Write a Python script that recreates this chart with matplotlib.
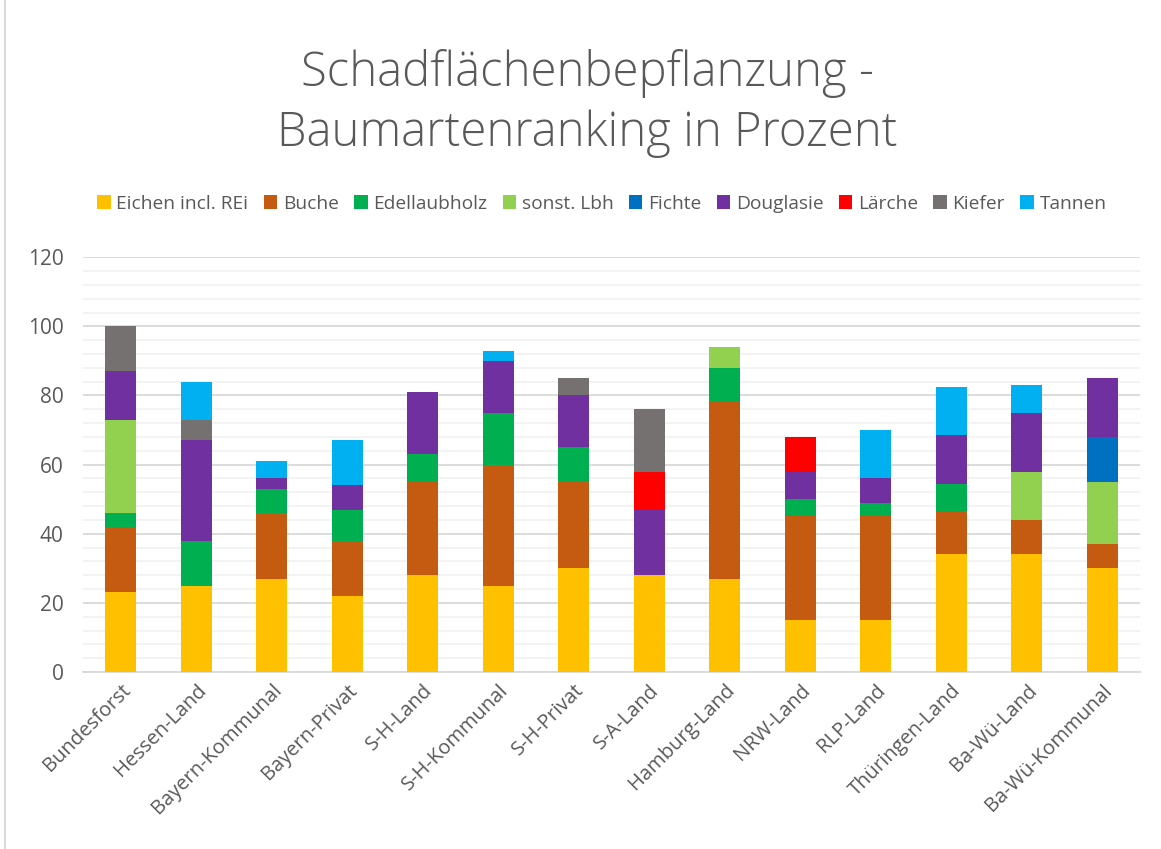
import matplotlib.pyplot as plt
from matplotlib.lines import Line2D
from matplotlib.ticker import MultipleLocator
import numpy as np

regions = ["Bundesforst", "Hessen-Land", "Bayern-Kommunal", "Bayern-Privat",
           "S-H-Land", "S-H-Kommunal", "S-H-Privat", "S-A-Land", "Hamburg-Land",
           "NRW-Land", "RLP-Land", "Thüringen-Land", "Ba-Wü-Land", "Ba-Wü-Kommunal"]

eichen    = [23, 25, 27, 22, 28, 25, 30, 28, 27, 15, 15, 34, 34, 30]
buche     = [19, 0, 19, 16, 27, 35, 25, 0, 51, 30, 30, 12.5, 10, 7]
edellaub  = [4, 13, 7, 9, 8, 15, 10, 0, 10, 5, 4, 8, 0, 0]
sonst_lbh = [27, 0, 0, 0, 0, 0, 0, 0, 6, 0, 0, 0, 14, 18]
fichte    = [0, 0, 0, 0, 0, 0, 0, 0, 0, 0, 0, 0, 0, 13]
douglasie = [14, 29, 3, 7, 18, 15, 15, 19, 0, 8, 7, 14, 17, 17]
laerche   = [0, 0, 0, 0, 0, 0, 0, 11, 0, 10, 0, 0, 0, 0]
kiefer    = [13, 6, 0, 0, 0, 0, 5, 18, 0, 0, 0, 0, 0, 0]
tannen    = [0, 11, 5, 13, 0, 3, 0, 0, 0, 0, 14, 14, 8, 0]

series = [
    ("Eichen incl. REi", eichen, "#FFC000"),
    ("Buche", buche, "#C55A11"),
    ("Edellaubholz", edellaub, "#00B050"),
    ("sonst. Lbh", sonst_lbh, "#92D050"),
    ("Fichte", fichte, "#0070C0"),
    ("Douglasie", douglasie, "#7030A0"),
    ("Lärche", laerche, "#FF0000"),
    ("Kiefer", kiefer, "#767171"),
    ("Tannen", tannen, "#00B0F0"),
]

plt.rcParams["font.family"] = ["Open Sans", "DejaVu Sans"]
TXT = "#595959"

fig = plt.figure(figsize=(11.61, 8.49), dpi=100)
ax = fig.add_axes([0.0715, 0.2085, 0.9105, 0.4885])

x = np.arange(len(regions))
bottom = np.zeros(len(regions))
for name, vals, col in series:
    vals = np.array(vals, dtype=float)
    ax.bar(x, vals, width=0.41, bottom=bottom, color=col, label=name,
           linewidth=0, zorder=3)
    bottom += vals

ax.set_xlim(-0.5, len(regions) - 0.5)
ax.set_ylim(0, 120)
ax.yaxis.set_major_locator(MultipleLocator(20))
ax.yaxis.set_minor_locator(MultipleLocator(4))
ax.grid(axis="y", which="major", color="#D9D9D9", linewidth=1.3, zorder=0)
ax.grid(axis="y", which="minor", color="#F2F2F2", linewidth=1.3, zorder=0)
for s in ["top", "right", "left"]:
    ax.spines[s].set_visible(False)
ax.spines["bottom"].set_color("#D9D9D9")
ax.spines["bottom"].set_linewidth(1.3)
ax.tick_params(axis="y", which="both", length=0, labelsize=15, labelcolor=TXT, pad=14)
ax.tick_params(axis="x", length=0, labelsize=14.5, labelcolor=TXT, pad=6)
ax.set_xticks(x)
ax.set_xticklabels(regions, rotation=45, ha="right", rotation_mode="anchor")

fig.text(0.506, 0.913, "Schadflächenbepflanzung -", ha="center", va="center",
         fontsize=34, color=TXT, fontweight="light")
fig.text(0.506, 0.843, "Baumartenranking in Prozent", ha="center", va="center",
         fontsize=34, color=TXT, fontweight="light")

fig.legend(loc="center", bbox_to_anchor=(0.5185, 0.76), ncol=9, frameon=False,
           fontsize=13.8, labelcolor=TXT, handlelength=0.7, handleheight=0.7,
           handletextpad=0.3, columnspacing=0.8)

# left edge of the chart frame
fig.add_artist(Line2D([0.0045, 0.0045], [0, 1], transform=fig.transFigure,
                      color="#D9D9D9", linewidth=1.5))

fig.savefig("out.png", dpi=100)
